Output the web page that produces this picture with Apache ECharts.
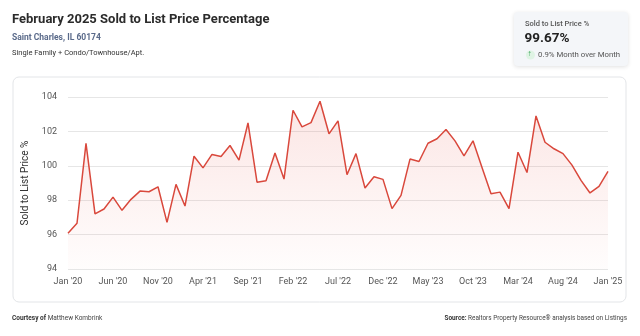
<!DOCTYPE html>
<html>
<head>
<meta charset="utf-8">
<style>
  html, body { margin: 0; padding: 0; background: #fff; }
  #chart { width: 640px; height: 336px; }
</style>
<script src="https://cdn.jsdelivr.net/npm/echarts@6/dist/echarts.min.js"></script>
</head>
<body>
<div id="chart"></div>
<script>
// Monthly sold-to-list price percentage, Jan 2020 – Jan 2025
const months = [
  "Jan '20","Feb '20","Mar '20","Apr '20","May '20","Jun '20","Jul '20","Aug '20","Sep '20","Oct '20","Nov '20","Dec '20",
  "Jan '21","Feb '21","Mar '21","Apr '21","May '21","Jun '21","Jul '21","Aug '21","Sep '21","Oct '21","Nov '21","Dec '21",
  "Jan '22","Feb '22","Mar '22","Apr '22","May '22","Jun '22","Jul '22","Aug '22","Sep '22","Oct '22","Nov '22","Dec '22",
  "Jan '23","Feb '23","Mar '23","Apr '23","May '23","Jun '23","Jul '23","Aug '23","Sep '23","Oct '23","Nov '23","Dec '23",
  "Jan '24","Feb '24","Mar '24","Apr '24","May '24","Jun '24","Jul '24","Aug '24","Sep '24","Oct '24","Nov '24","Dec '24",
  "Jan '25"
];
const soldToList = [
  96.08, 96.66, 101.30, 97.20, 97.49, 98.18, 97.41, 98.05, 98.53, 98.49, 98.78, 96.71,
  98.92, 97.66, 100.56, 99.88, 100.66, 100.54, 101.18, 100.33, 102.49, 99.05, 99.13, 100.75,
  99.23, 103.23, 102.26, 102.51, 103.75, 101.86, 102.61, 99.48, 100.71, 98.71, 99.36, 99.21,
  97.51, 98.28, 100.39, 100.25, 101.31, 101.57, 102.11, 101.45, 100.58, 101.45, 99.90, 98.38,
  98.47, 97.51, 100.79, 99.61, 102.90, 101.37, 100.99, 100.71, 100.04, 99.15, 98.42, 98.80,
  99.67
];
const yTicks = { min: 94, max: 104, step: 2 };
const kpi = { label: 'Sold to List Price %', value: '99.67%', change: '0.9% Month over Month' };

const FONT = 'Roboto, "Noto Sans", sans-serif';
const chart = echarts.init(document.getElementById('chart'), null, { renderer: 'canvas' });

chart.setOption({
  backgroundColor: '#ffffff',
  animation: false,
  textStyle: { fontFamily: FONT },
  graphic: [
    // chart card
    { type: 'rect', z: -10, silent: true,
      shape: { x: 13, y: 77, width: 613, height: 225, r: 6 },
      style: { fill: '#fff', stroke: '#e3e5e8', lineWidth: 1 } },
    // header texts
    { type: 'text', left: 12, top: 13,
      style: { text: 'February 2025 Sold to List Price Percentage', font: 'bold 13px ' + FONT, fill: '#2b2b2b' } },
    { type: 'text', left: 12, top: 33,
      style: { text: 'Saint Charles, IL 60174', font: 'bold 8.5px ' + FONT, fill: '#5a6a8a' } },
    { type: 'text', left: 12, top: 49,
      style: { text: 'Single Family + Condo/Townhouse/Apt.', font: '7.5px ' + FONT, fill: '#333' } },
    // KPI box
    { type: 'rect', z: -5, silent: true,
      shape: { x: 514, y: 12, width: 114, height: 54, r: 4 },
      style: { fill: '#f4f6f9', shadowBlur: 4, shadowColor: 'rgba(0,0,0,0.12)', shadowOffsetY: 1 } },
    { type: 'text', left: 525, top: 20,
      style: { text: kpi.label, font: '500 7.5px ' + FONT, fill: '#555' } },
    { type: 'text', left: 524.5, top: 32,
      style: { text: kpi.value, font: 'bold 13.5px ' + FONT, fill: '#222' } },
    { type: 'circle', shape: { cx: 530.5, cy: 55, r: 4.5 }, style: { fill: '#dff3e4' } },
    { type: 'text', left: 527.5, top: 50,
      style: { text: '↑', font: 'bold 8px ' + FONT, fill: '#2e9e4f' } },
    { type: 'text', left: 538, top: 51,
      style: { text: kpi.change, font: '7.8px ' + FONT, fill: '#555' } },
    // footer
    { type: 'text', left: 12, top: 315,
      style: { text: '{b|Courtesy of} Matthew Kombrink',
        font: '6.5px ' + FONT, fill: '#444',
        rich: { b: { fontWeight: 'bold', fontSize: 6.5, fontFamily: FONT, fill: '#333' } } } },
    { type: 'text', right: 13, top: 315,
      style: { text: '{b|Source:} Realtors Property Resource® analysis based on Listings',
        font: '6.4px ' + FONT, fill: '#444',
        rich: { b: { fontWeight: 'bold', fontSize: 6.4, fontFamily: FONT, fill: '#333' } } } }
  ],
  grid: { left: 68, right: 32, top: 97, bottom: 67 },
  xAxis: {
    type: 'category',
    data: months,
    boundaryGap: false,
    axisLine: { show: false },
    axisTick: { show: false },
    axisLabel: { interval: 4, color: '#555', fontSize: 9, margin: 8, fontFamily: FONT },
    splitLine: { show: false }
  },
  yAxis: {
    type: 'value',
    min: yTicks.min, max: yTicks.max, interval: yTicks.step,
    name: 'Sold to List Price %',
    nameLocation: 'middle',
    nameGap: 34,
    nameTextStyle: { color: '#333', fontSize: 10, fontFamily: FONT },
    axisLine: { show: false },
    axisTick: { show: false },
    axisLabel: { color: '#555', fontSize: 9, margin: 11, fontFamily: FONT },
    splitLine: { lineStyle: { color: '#e6e6e6', width: 1 } }
  },
  series: [{
    type: 'line',
    data: soldToList,
    symbol: 'none',
    lineStyle: { color: '#d9483c', width: 1.5 },
    areaStyle: {
      color: new echarts.graphic.LinearGradient(0, 0, 0, 1, [
        { offset: 0, color: 'rgba(232, 90, 80, 0.22)' },
        { offset: 1, color: 'rgba(232, 90, 80, 0.02)' }
      ]),
      origin: 'start'
    }
  }]
});
</script>
</body>
</html>
